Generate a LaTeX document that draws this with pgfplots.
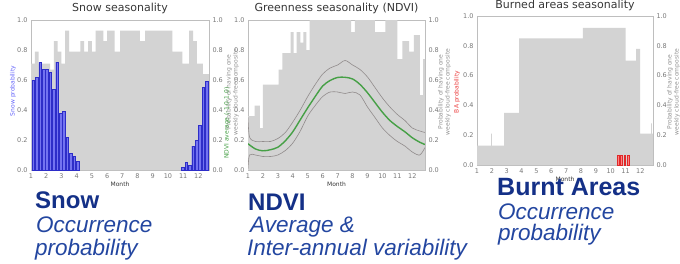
\documentclass[border=0pt]{standalone}
\usepackage{fontspec}
\setmainfont{Liberation Sans}
\newfontfamily\dejavu{DejaVu Sans}
\usepackage{pgfplots}
\pgfplotsset{compat=1.18}
\definecolor{histgray}{RGB}{211,211,211}
\definecolor{tickgray}{RGB}{120,120,120}
\definecolor{axisgray}{RGB}{190,190,190}
\definecolor{titlegray}{RGB}{55,55,55}
\definecolor{snowfill}{RGB}{115,115,240}
\definecolor{snowedge}{RGB}{45,45,200}
\definecolor{bafill}{RGB}{255,130,130}
\definecolor{baedge}{RGB}{225,40,40}
\definecolor{ndvigreen}{RGB}{70,160,70}
\definecolor{sdgray}{RGB}{145,140,140}
\definecolor{navy}{RGB}{20,48,135}
\definecolor{navyit}{RGB}{35,70,160}
\definecolor{snowlab}{RGB}{100,100,250}
\definecolor{balab}{RGB}{235,60,60}
\pgfplotsset{
  panel/.style={anchor=south west, scale only axis, ymin=0, ymax=1, xmin=1,
    xtick={1,2,...,12}, ytick={0,0.2,0.4,0.6,0.8,1.0},
    major tick length=0pt,
    /pgf/number format/assume math mode=true,
    tick label style={font=\dejavu\fontsize{6.5}{7}\selectfont, text=tickgray},
    yticklabel style={/pgf/number format/fixed, /pgf/number format/fixed zerofill, /pgf/number format/precision=1},
    axis line style={draw=axisgray, line width=0.4pt},
    xlabel={Month}, xlabel style={font=\dejavu\fontsize{6}{7}\selectfont, text=titlegray, yshift=3pt},
    title style={font=\dejavu\fontsize{11}{12}\selectfont, text=titlegray, at={(0.5,1)}, anchor=base, yshift=2pt},
  },
  rightax/.style={anchor=south west, scale only axis, ymin=0, ymax=1, xmin=1,
    axis x line=none, axis y line*=right, ytick={0,0.2,0.4,0.6,0.8,1.0},
    major tick length=0pt,
    /pgf/number format/assume math mode=true,
    tick label style={font=\dejavu\fontsize{6.5}{7}\selectfont, text=tickgray},
    yticklabel style={/pgf/number format/fixed, /pgf/number format/fixed zerofill, /pgf/number format/precision=1},
    axis line style={draw=axisgray, line width=0.4pt},
  },
}
\begin{document}
\begin{tikzpicture}
\useasboundingbox (0pt,0pt) rectangle (680pt,263pt);
% ---------------- Panel 1: Snow ----------------
\begin{axis}[panel, at={(31pt,93pt)}, width=178pt, height=150pt, xmax=12.7,
  title={Snow seasonality}]
\addplot[const plot, fill=histgray, draw=none] coordinates {
 (1.0,0.71) (1.25,0.79) (1.5,0.71) (2.25,0.67) (2.5,0.86) (2.75,0.79) (3.0,0.71)
 (3.25,0.93) (3.5,0.79) (4.25,0.86) (4.5,0.79) (4.75,0.86) (5.0,0.79) (5.25,0.93)
 (5.75,0.86) (6.0,0.93) (6.5,0.79) (6.85,0.93) (8.15,0.86) (8.5,0.93) (10.3,0.79)
 (10.65,0.79) (10.95,0.71) (11.4,0.93) (11.65,0.86) (11.9,0.71) (12.3,0.64) (12.7,0.64)
} \closedcycle;
\addplot[ybar, bar width=0.17, fill=snowfill, draw=snowedge, line width=0.4pt] coordinates {
 (1.15,0.60) (1.37,0.62) (1.60,0.72) (1.82,0.67) (2.04,0.67) (2.27,0.65) (2.49,0.54)
 (2.71,0.72) (2.94,0.38) (3.16,0.39) (3.39,0.22) (3.61,0.11) (3.83,0.09) (4.06,0.06)
 (10.98,0.02) (11.21,0.05) (11.43,0.03) (11.65,0.16) (11.88,0.20) (12.10,0.30)
 (12.33,0.55) (12.55,0.59)
};
\end{axis}
\begin{axis}[rightax, at={(31pt,93pt)}, width=178pt, height=150pt, xmax=12.7]
\addplot[draw=none] coordinates {(1,0)};
\end{axis}
% ---------------- Panel 2: NDVI ----------------
\begin{axis}[panel, at={(248pt,93pt)}, width=177pt, height=150pt, xmax=12.85,
  title={Greenness seasonality (NDVI)}]
\addplot[const plot, fill=histgray, draw=none] coordinates {
 (1.0,0.36) (1.45,0.43) (1.8,0.28) (2.0,0.57) (3.05,0.67) (3.3,0.78) (3.85,0.92)
 (4.05,0.78) (4.25,0.92) (4.5,0.85) (4.7,0.92) (4.9,0.8) (5.12,1.0) (7.9,0.92)
 (8.15,1.0) (9.5,0.92) (10.2,1.0) (11.0,0.74) (11.33,0.86) (11.78,0.79) (12.1,0.9)
 (12.5,0.5) (12.72,0.74) (12.85,0.74)
} \closedcycle;
\addplot[sdgray, line width=0.6pt, smooth] coordinates {
 (1.0,0.35) (1.1,0.22) (1.5,0.19) (2,0.19) (2.5,0.19) (3,0.21) (3.5,0.25) (4,0.32)
 (4.5,0.40) (5,0.49) (5.5,0.57) (6,0.64) (6.5,0.68) (7,0.70) (7.5,0.73) (8,0.70)
 (8.5,0.67) (9,0.62) (9.5,0.55) (10,0.48) (10.5,0.42) (11,0.37) (11.5,0.33) (12,0.28)
 (12.5,0.26) (12.85,0.25)
};
\addplot[sdgray, line width=0.6pt, smooth] coordinates {
 (1.0,0.01) (1.1,0.10) (1.5,0.10) (2,0.09) (2.5,0.09) (3,0.10) (3.5,0.13) (4,0.18)
 (4.5,0.26) (5,0.36) (5.5,0.43) (6,0.49) (6.5,0.52) (7,0.52) (7.5,0.51) (8,0.52)
 (8.5,0.50) (9,0.42) (9.5,0.35) (10,0.28) (10.5,0.23) (11,0.19) (11.5,0.16) (12,0.12)
 (12.5,0.10) (12.85,0.15)
};
\addplot[ndvigreen, line width=1.4pt, smooth] coordinates {
 (1,0.175) (1.5,0.14) (2,0.128) (2.5,0.135) (3,0.152) (3.5,0.195) (4,0.255) (4.5,0.335)
 (5,0.415) (5.5,0.49) (6,0.56) (6.5,0.597) (7,0.617) (7.5,0.618) (8,0.607) (8.5,0.57)
 (9,0.515) (9.5,0.45) (10,0.385) (10.5,0.33) (11,0.29) (11.5,0.255) (12,0.215)
 (12.5,0.185) (12.85,0.17)
};
\end{axis}
\begin{axis}[rightax, at={(248pt,93pt)}, width=177pt, height=150pt, xmax=12.85]
\addplot[draw=none] coordinates {(1,0)};
\end{axis}
% ---------------- Panel 3: Burned areas ----------------
\begin{axis}[panel, at={(477pt,98pt)}, width=176pt, height=149pt, xmax=12.85,
  title={Burned areas seasonality}]
\addplot[const plot, fill=histgray, draw=none] coordinates {
 (1.0,0.13) (1.95,0.21) (2.0,0.13) (2.82,0.35) (3.83,0.85) (8.13,0.92) (11.0,0.70)
 (11.72,0.78) (11.99,0.21) (12.72,0.28) (12.78,0.21) (12.85,0.21)
} \closedcycle;
\addplot[ybar, bar width=0.12, fill=bafill, draw=baedge, line width=0.4pt] coordinates {
 (10.50,0.065) (10.73,0.065) (10.95,0.065) (11.17,0.065)
};
\end{axis}
\begin{axis}[rightax, at={(477pt,98pt)}, width=176pt, height=149pt, xmax=12.85]
\addplot[draw=none] coordinates {(1,0)};
\end{axis}
% ---------------- axis side labels ----------------
\begin{scope}[every node/.style={rotate=90, font=\dejavu\fontsize{6}{7}\selectfont, inner sep=0pt}]
\node[text=snowlab] at (13pt,172pt) {Snow probability};
\node[text=tickgray!80] at (229pt,171pt) {Probability of having one};
\node[text=tickgray!80] at (236pt,171pt) {weekly cloud-free composite};
\node[text=ndvigreen] at (227pt,140pt) {NDVI average (-1.0-1.0)};
\node[text=tickgray!80] at (441pt,171pt) {Probability of having one};
\node[text=tickgray!80] at (448pt,171pt) {weekly cloud-free composite};
\node[text=balab] at (457pt,171pt) {BA probability};
\node[text=tickgray!80] at (670pt,171pt) {Probability of having one};
\node[text=tickgray!80] at (677pt,171pt) {weekly cloud-free composite};
\end{scope}
% ---------------- big captions ----------------
\begin{scope}[every node/.style={anchor=base west, inner sep=0pt}]
\node[text=navy, font=\bfseries\fontsize{24}{26}\selectfont] at (35pt,55pt) {Snow};
\node[text=navyit, font=\itshape\fontsize{22.5}{26}\selectfont] at (36pt,30.5pt) {Occurrence};
\node[text=navyit, font=\itshape\fontsize{22.5}{26}\selectfont] at (35pt,8pt) {probability};
\node[text=navy, font=\bfseries\fontsize{24}{26}\selectfont] at (248pt,53pt) {NDVI};
\node[text=navyit, font=\itshape\fontsize{22.5}{26}\selectfont] at (250pt,30.5pt) {Average \&};
\node[text=navyit, font=\itshape\fontsize{22.5}{26}\selectfont] at (247pt,8pt) {Inter-annual variability};
\node[text=navy, font=\bfseries\fontsize{25}{27}\selectfont] at (497pt,68pt) {Burnt Areas};
\node[text=navyit, font=\itshape\fontsize{22.5}{26}\selectfont] at (498pt,44pt) {Occurrence};
\node[text=navyit, font=\itshape\fontsize{22.5}{26}\selectfont] at (498pt,23pt) {probability};
\end{scope}
\end{tikzpicture}
\end{document}
